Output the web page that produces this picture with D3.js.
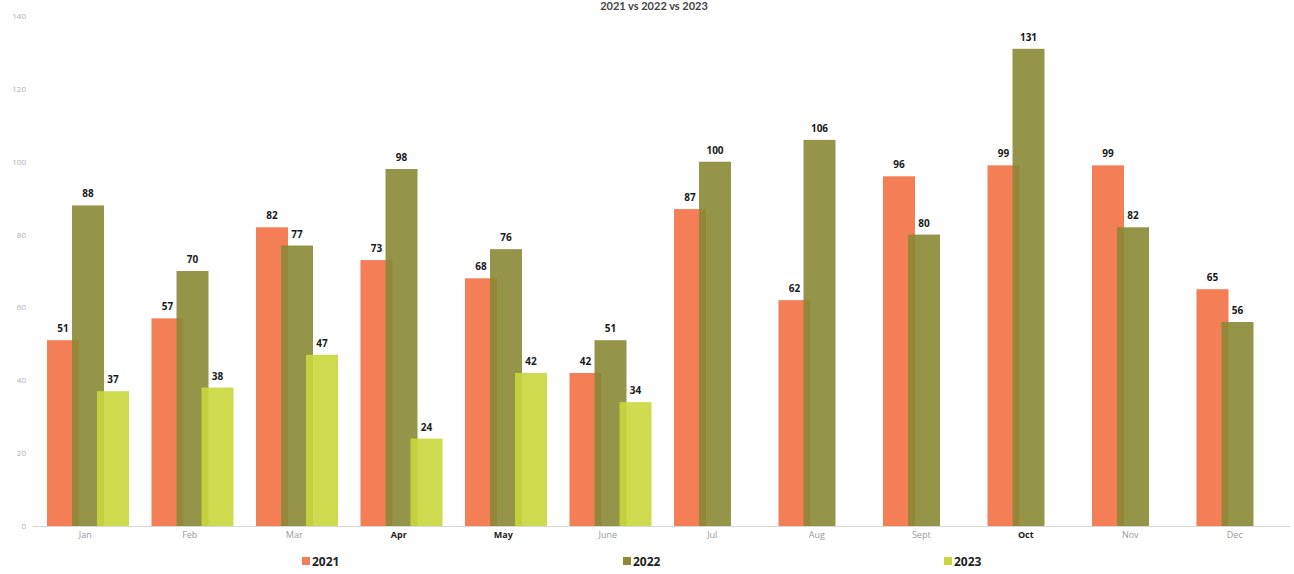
<!DOCTYPE html>
<html>
<head>
<meta charset="utf-8">
<script src="https://cdn.jsdelivr.net/npm/d3@7"></script>
<style>
  html, body { margin: 0; padding: 0; background: #ffffff; }
  svg { display: block; }
</style>
</head>
<body>
<svg id="chart" width="1294" height="574"></svg>
<script>
const months = ["Jan", "Feb", "Mar", "Apr", "May", "June", "Jul", "Aug", "Sept", "Oct", "Nov", "Dec"];
const seriesNames = ["2021", "2022", "2023"];
const values2021 = [51, 57, 82, 73, 68, 42, 87, 62, 96, 99, 99, 65];
const values2022 = [88, 70, 77, 98, 76, 51, 100, 106, 80, 131, 82, 56];
const values2023 = [37, 38, 47, 24, 42, 34, null, null, null, null, null, null];
const yTicks = [0, 20, 40, 60, 80, 100, 120, 140];
const titleText = "2021 vs 2022 vs 2023";

const seriesValues = { "2021": values2021, "2022": values2022, "2023": values2023 };
const colors = { "2021": "#f47f57", "2022": "#8a8a35", "2023": "#c9d73c" };
const opac = { "2021": 1, "2022": 0.9, "2023": 0.9 };

const svg = d3.select("#chart");

const x = d3.scaleBand().domain(months).range([33, 1287]);
const y = d3.scaleLinear().domain([0, 140]).range([526, 16]);
const sub = d3.scalePoint().domain(seriesNames).range([0, 50]);
const barW = 32;
const groupOffset = 14;

// title
svg.append("text")
  .attr("x", 654).attr("y", 10)
  .attr("text-anchor", "middle")
  .attr("font-family", "Lato, 'Open Sans', sans-serif")
  .attr("font-weight", "bold")
  .attr("font-size", 11)
  .attr("fill", "#444")
  .text(titleText);

// y axis labels
const yAxis = d3.axisLeft(y).tickValues(yTicks).tickSize(0).tickPadding(0);
const gy = svg.append("g").attr("transform", "translate(26,0)").call(yAxis);
gy.select(".domain").remove();
gy.selectAll("text")
  .attr("font-family", "'Open Sans', sans-serif")
  .attr("font-size", 8)
  .attr("fill", "#b0b0b0");

// baseline
svg.append("line")
  .attr("x1", 33).attr("x2", 1290)
  .attr("y1", y(0) + 0.5).attr("y2", y(0) + 0.5)
  .attr("stroke", "#d8d8d8").attr("stroke-width", 1);

// bars
const data = [];
months.forEach((m, i) => {
  seriesNames.forEach(s => {
    const v = seriesValues[s][i];
    if (v !== null && v !== undefined) data.push({ month: m, series: s, value: v });
  });
});

svg.append("g").selectAll("rect")
  .data(data)
  .join("rect")
  .attr("x", d => x(d.month) + groupOffset + sub(d.series))
  .attr("y", d => y(d.value))
  .attr("width", barW)
  .attr("height", d => y(0) - y(d.value))
  .attr("fill", d => colors[d.series])
  .attr("fill-opacity", d => opac[d.series]);

// value labels
svg.append("g").selectAll("text")
  .data(data)
  .join("text")
  .attr("x", d => x(d.month) + groupOffset + sub(d.series) + barW / 2)
  .attr("y", d => y(d.value) - 8)
  .attr("text-anchor", "middle")
  .attr("font-family", "'Open Sans', sans-serif")
  .attr("font-weight", "bold")
  .attr("font-size", 10)
  .attr("fill", "#1a1a1a")
  .text(d => d.value);

// x axis labels
const darkMonths = ["Apr", "May", "Oct"];
const xAxis = d3.axisBottom(x).tickSize(0).tickPadding(0);
const gx = svg.append("g").attr("transform", "translate(0,532)").call(xAxis);
gx.select(".domain").remove();
gx.selectAll("text")
  .attr("font-family", "'Open Sans', sans-serif")
  .attr("font-size", 9)
  .attr("fill", d => darkMonths.includes(d) ? "#222" : "#9a9a9a")
  .attr("font-weight", d => darkMonths.includes(d) ? "bold" : "normal");

// legend
const legendX = { "2021": 302, "2022": 623, "2023": 944 };
const lg = svg.append("g");
seriesNames.forEach(s => {
  lg.append("rect")
    .attr("x", legendX[s]).attr("y", 557)
    .attr("width", 8).attr("height", 8)
    .attr("fill", colors[s]);
  lg.append("text")
    .attr("x", legendX[s] + 10).attr("y", 566)
    .attr("font-family", "'Open Sans', sans-serif")
    .attr("font-weight", "bold")
    .attr("font-size", 12)
    .attr("fill", "#222")
    .text(s);
});
</script>
</body>
</html>
